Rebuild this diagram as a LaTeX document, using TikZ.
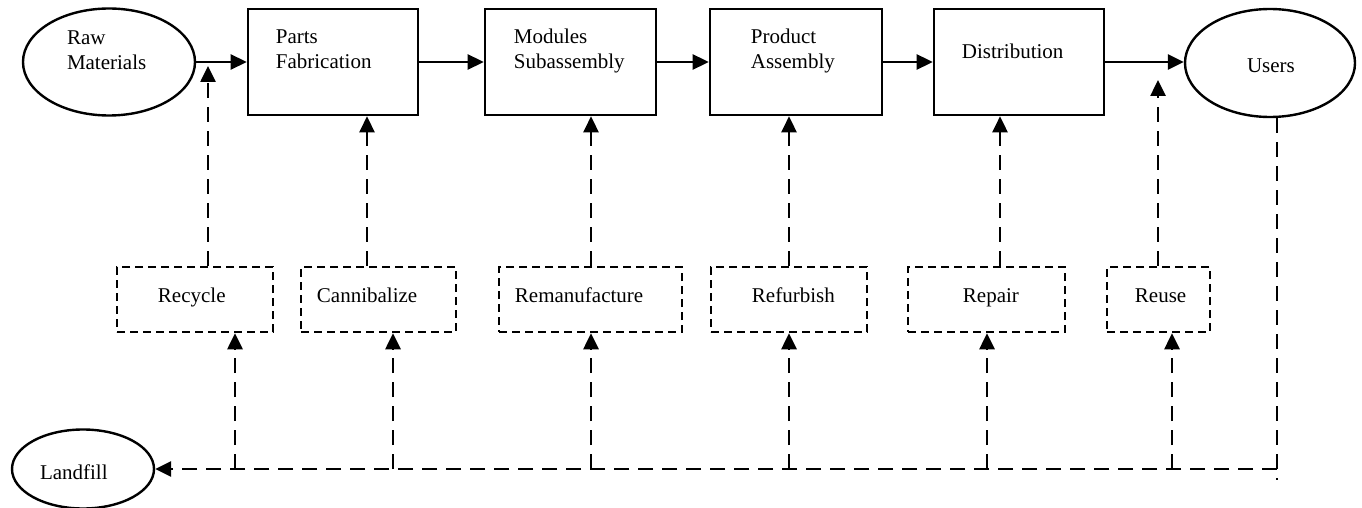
\documentclass[tikz,border=0pt]{standalone}
\usepackage{fontspec}
\setmainfont{Liberation Serif}
\usetikzlibrary{arrows.meta,shapes.geometric}
\tikzset{
  txt/.style={anchor=base west, inner sep=0pt, font=\fontsize{21}{25}\selectfont},
  mainbox/.style={draw, line width=2.6pt, minimum height=106pt, inner sep=0pt},
  oval/.style={draw, ellipse, line width=2.4pt, inner sep=0pt},
  dbox/.style={draw, line width=2.5pt, dash pattern=on 8pt off 5pt, minimum height=65pt, inner sep=0pt},
  arr/.style={line width=2.6pt, -{Triangle[length=16pt,width=15pt]}},
  darr/.style={line width=2.6pt, dash pattern=on 15pt off 9pt, -{Triangle[length=16pt,width=15pt]}},
  dline/.style={line width=2.6pt, dash pattern=on 15pt off 9pt}
}
\begin{document}
\begin{tikzpicture}[x=1pt,y=-1pt]
\useasboundingbox (0,0) rectangle (1362,508);
% ovals
\node[oval, minimum width=172pt, minimum height=107pt,
  label={[txt,xshift=45pt,yshift=17pt]west:Raw},
  label={[txt,xshift=45pt,yshift=-8pt]west:Materials}] (raw) at (109,62) {};
\node[oval, minimum width=170pt, minimum height=108pt,
  label={[txt,xshift=63pt,yshift=-10pt]west:Users}] (users) at (1270,63) {};
\node[oval, minimum width=142pt, minimum height=79pt,
  label={[txt,xshift=29pt,yshift=-10pt]west:Landfill}] (landfill) at (83,469) {};
% main boxes
\node[mainbox, minimum width=170pt,
  label={[txt,xshift=29pt,yshift=-36pt]north west:Parts},
  label={[txt,xshift=29pt,yshift=-61pt]north west:Fabrication}] (parts) at (333,62) {};
\node[mainbox, minimum width=171pt,
  label={[txt,xshift=30pt,yshift=-36pt]north west:Modules},
  label={[txt,xshift=30pt,yshift=-61pt]north west:Subassembly}] (modules) at (570.5,62) {};
\node[mainbox, minimum width=172pt,
  label={[txt,xshift=42pt,yshift=-36pt]north west:Product},
  label={[txt,xshift=42pt,yshift=-61pt]north west:Assembly}] (product) at (796,62) {};
\node[mainbox, minimum width=170pt,
  label={[txt,xshift=29pt,yshift=-51pt]north west:Distribution}] (distribution) at (1019,62) {};
% dashed boxes
\node[dbox, minimum width=156pt, label={[txt,xshift=42pt,yshift=-2.5pt]west:Recycle}] (recycle) at (195,299.5) {};
\node[dbox, minimum width=155pt, label={[txt,xshift=17pt,yshift=-2.5pt]west:Cannibalize}] (cannib) at (378.5,299.5) {};
\node[dbox, minimum width=183pt, label={[txt,xshift=17pt,yshift=-2.5pt]west:Remanufacture}] (reman) at (590.5,299.5) {};
\node[dbox, minimum width=156pt, label={[txt,xshift=42pt,yshift=-2.5pt]west:Refurbish}] (refurb) at (789,299.5) {};
\node[dbox, minimum width=157pt, label={[txt,xshift=56pt,yshift=-2.5pt]west:Repair}] (repair) at (986.5,299.5) {};
\node[dbox, minimum width=103pt, label={[txt,xshift=29pt,yshift=-2.5pt]west:Reuse}] (reuse) at (1158.5,299.5) {};
% main flow
\draw[arr] (raw.east) -- (parts.west);
\draw[arr] (parts.east) -- (modules.west);
\draw[arr] (modules.east) -- (product.west);
\draw[arr] (product.east) -- (distribution.west);
\draw[arr] (distribution.east) -- (users.west |- distribution.east);
% upward feedback
\coordinate (u1) at (208,66);
\coordinate (u2) at (367,0);
\coordinate (u3) at (591,0);
\coordinate (u4) at (789,0);
\coordinate (u5) at (1000,0);
\coordinate (u6) at (1158,80);
\draw[darr] (recycle.north -| u1) -- (u1);
\draw[darr] (cannib.north -| u2) -- (parts.south -| u2);
\draw[darr] (reman.north -| u3) -- (modules.south -| u3);
\draw[darr] (refurb.north -| u4) -- (product.south -| u4);
\draw[darr] (repair.north -| u5) -- (distribution.south -| u5);
\draw[darr] (reuse.north -| u6) -- (u6);
% return line
\coordinate (ub) at (1277,480);
\coordinate (hb) at (1277,469);
\draw[dline] (users.south -| ub) -- (ub);
\draw[darr] (hb) -- (landfill.east);
\coordinate (b1) at (235,469);
\coordinate (b2) at (393,469);
\coordinate (b3) at (591,469);
\coordinate (b4) at (789,469);
\coordinate (b5) at (987,469);
\coordinate (b6) at (1172,469);
\draw[darr] (b1) -- (recycle.south -| b1);
\draw[darr] (b2) -- (cannib.south -| b2);
\draw[darr] (b3) -- (reman.south -| b3);
\draw[darr] (b4) -- (refurb.south -| b4);
\draw[darr] (b5) -- (repair.south -| b5);
\draw[darr] (b6) -- (reuse.south -| b6);
\end{tikzpicture}
\end{document}
